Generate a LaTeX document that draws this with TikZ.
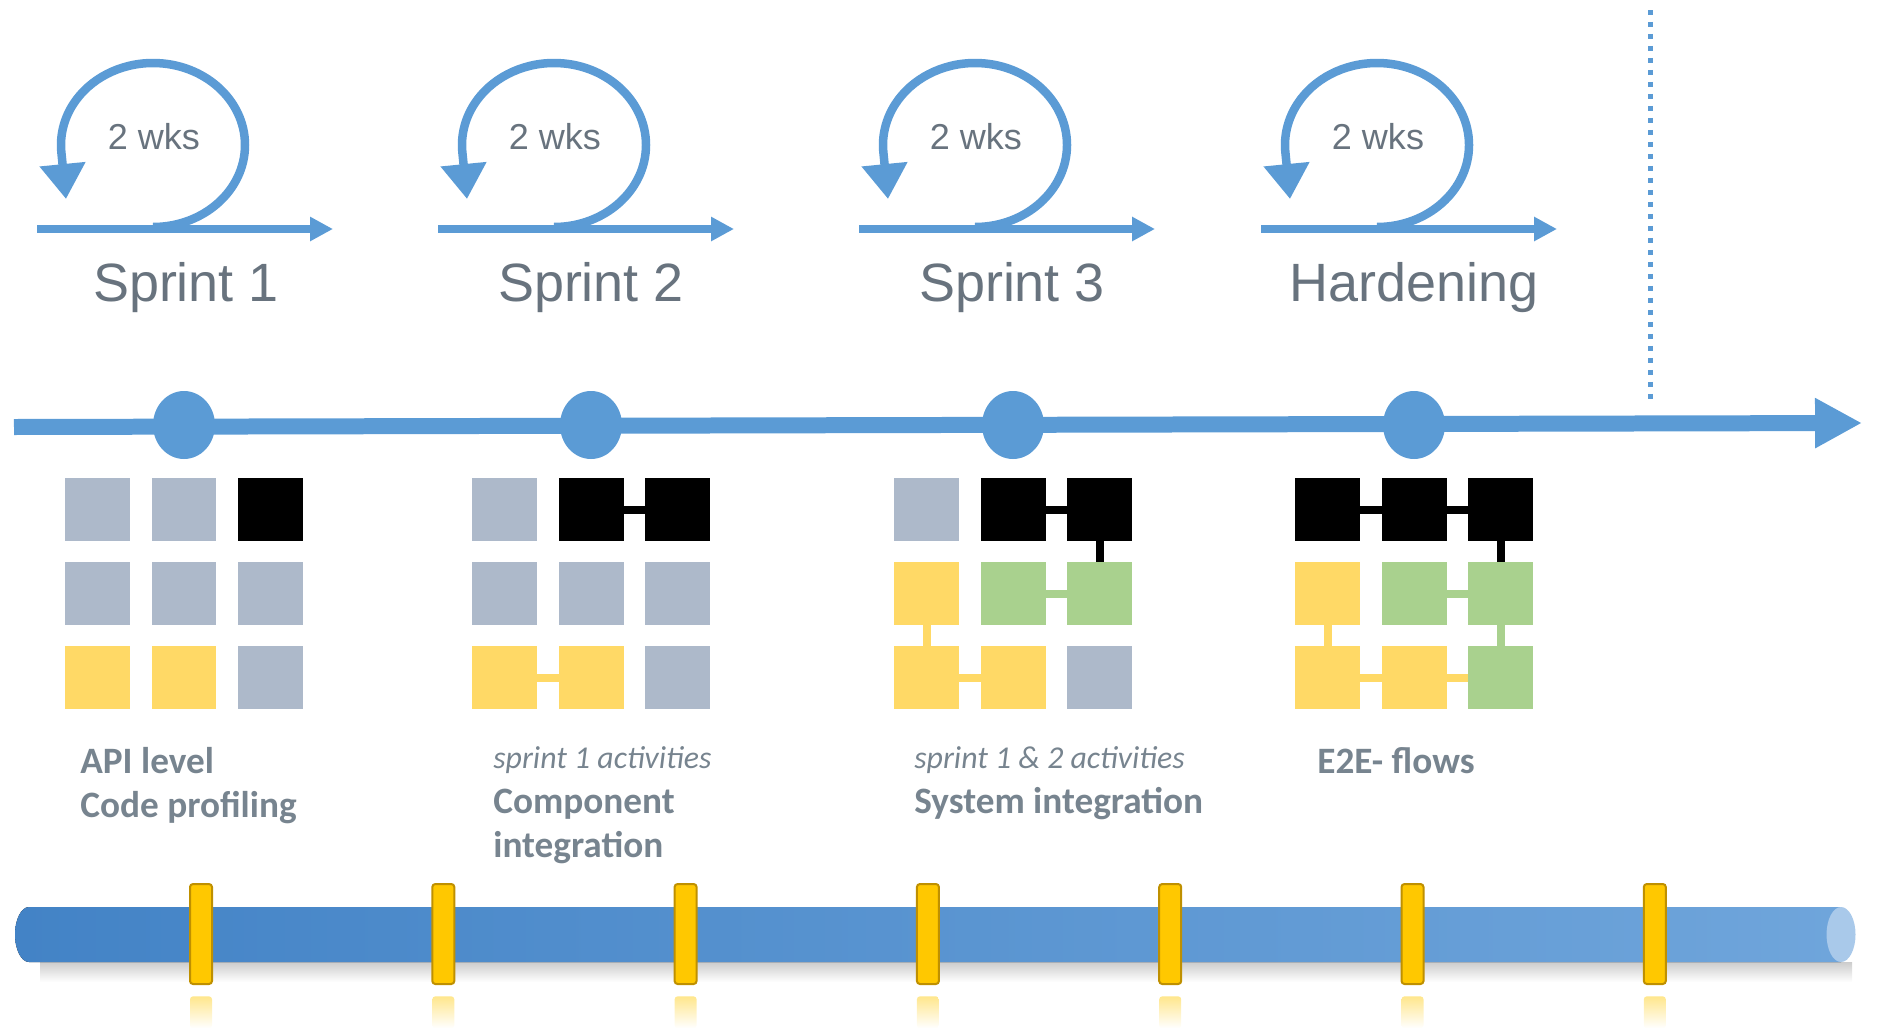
\documentclass[tikz,border=0pt]{standalone}
\usepackage{fontspec}
\setmainfont{Liberation Sans}
\newfontfamily\calibri{Carlito}
\usetikzlibrary{arrows.meta,shapes.geometric,positioning}
\definecolor{sblue}{HTML}{5B9BD5}
\definecolor{sgray}{HTML}{68737E}
\definecolor{lgray}{HTML}{77848F}
\definecolor{bgray}{HTML}{ADB9CA}
\definecolor{byellow}{HTML}{FFD966}
\definecolor{bgreen}{HTML}{A9D18E}
\definecolor{pegfill}{HTML}{FFC800}
\definecolor{pegline}{HTML}{BF9000}
\definecolor{tubeL}{HTML}{4383C6}
\definecolor{tubeR}{HTML}{6FA5DB}
\definecolor{tubecap}{HTML}{A9C9EA}
% one 3x3 grid of blocks under a milestone
\newcommand\sgrid[3]{%
  \foreach \f [count=\k from 0] in {#3} {
    \pgfmathtruncatemacro\r{\k/3}
    \pgfmathtruncatemacro\c{mod(\k,3)}
    \node[blk=\f] (#1-\r\c) at ({#2+86.5*(\c-1)}, {509.5+84*\r}) {};
  }}
\begin{document}
\begin{tikzpicture}[x=0.02cm, y=-0.02cm,
  blk/.style={minimum width=1.3cm, minimum height=1.26cm, inner sep=0pt, outer sep=0pt, fill=#1},
  link/.style={draw=#1, line width=0.16cm},
  mile/.style={ellipse, fill=sblue, minimum width=1.24cm, minimum height=1.36cm, inner sep=0pt},
  peg/.style={rounded corners=0.06cm, minimum width=0.44cm, minimum height=2cm, inner sep=0pt, fill=pegfill, draw=pegline, line width=0.04cm},
  pegshade/.style={rounded corners=0.06cm, minimum width=0.44cm, minimum height=0.64cm, inner sep=0pt, top color=pegfill!45, bottom color=white},
  loopline/.style={sblue, line width=0.17cm},
  sprint/.style={text=sgray, font=\fontsize{30.7}{36}\selectfont, anchor=base},
  wks/.style={text=sgray, font=\fontsize{20.5}{24}\selectfont, anchor=base},
  lbl/.style={text=lgray, font=\calibri\bfseries\fontsize{21.2}{25}\selectfont, anchor=base west, inner sep=0pt},
  note/.style={text=lgray, font=\calibri\itshape\fontsize{18.1}{20}\selectfont, anchor=base west, inner sep=0pt}]
\useasboundingbox (0,0) rectangle (1878,1031);

% sprint loops
\foreach \s/\x in {1/37, 2/438, 3/859, 4/1261}{
  \coordinate (lp\s) at (\x,229);
  \draw[loopline, -{Triangle[width=0.46cm,length=0.46cm]}] (lp\s) -- ++(296,0);
  \draw[loopline, -{Triangle[width=0.88cm,length=0.7cm]}] (\x+116,227)
    arc[start angle=90, end angle=-185, x radius=92, y radius=82] -- (\x+29,199);
  \node[wks] (wk\s) at (\x+117,149) {2 wks};
}
\node[sprint] (sp1) at (186,301) {Sprint 1};
\node[sprint] (sp2) at (591,301) {Sprint 2};
\node[sprint] (sp3) at (1012,301) {Sprint 3};
\node[sprint] (sp4) at (1414,301) {Hardening};

% timeline
\draw[sblue, line width=0.1cm, dash pattern=on 0.1cm off 0.14cm] (1650,10) -- (1650,404);
\coordinate (tl0) at (14,427);
\coordinate (tl1) at (1862,423);
\draw[sblue, line width=0.32cm, -{Triangle[width=0.94cm,length=0.94cm]}] (tl0) -- (tl1);
\foreach \i/\x in {1/184, 2/591, 3/1013, 4/1414}
  \node[mile] (m\i) at (\x,425) {};

% blocks
\sgrid{s1}{184}{bgray,bgray,black,bgray,bgray,bgray,byellow,byellow,bgray}
\sgrid{s2}{591}{bgray,black,black,bgray,bgray,bgray,byellow,byellow,bgray}
\sgrid{s3}{1013}{bgray,black,black,byellow,bgreen,bgreen,byellow,byellow,bgray}
\sgrid{s4}{1414}{black,black,black,byellow,bgreen,bgreen,byellow,byellow,bgreen}
\draw[link=black] (s2-01) -- (s2-02);
\draw[link=byellow] (s2-20) -- (s2-21);
\draw[link=black] (s3-01) -- (s3-02) (s3-02) -- (s3-12);
\draw[link=bgreen] (s3-11) -- (s3-12);
\draw[link=byellow] (s3-10) -- (s3-20) (s3-20) -- (s3-21);
\draw[link=black] (s4-00) -- (s4-01) (s4-01) -- (s4-02) (s4-02) -- (s4-12);
\draw[link=bgreen] (s4-11) -- (s4-12) (s4-12) -- (s4-22);
\draw[link=byellow] (s4-10) -- (s4-20) (s4-20) -- (s4-21) (s4-21) -- (s4-22);

% labels
\node[lbl] (t1a) at (80,773) {API level};
\node[lbl] (t1b) at (80,817) {Code profiling};
\node[note] (t2a) at (493,768) {sprint 1 activities};
\node[lbl] (t2b) at (493,813) {Component};
\node[lbl] (t2c) at (493,857) {integration};
\node[note] (t3a) at (914,768) {sprint 1 \& 2 activities};
\node[lbl] (t3b) at (914,813) {System integration};
\node[lbl] (t4a) at (1317,773) {E2E- flows};

% tube
\fill[top color=black!20, bottom color=white] (40,962) rectangle (1852,982);
\fill[left color=tubeL, right color=tubeR] (1841,907) -- (29,907)
  arc[start angle=-90, end angle=-270, x radius=14, y radius=27.5] -- (1841,962) -- cycle;
\fill[tubecap] (1841,934.5) ellipse[x radius=14.5, y radius=27.5];
\foreach \i in {1,...,7}{
  \node[peg] (p\i) at ({201+242.3*(\i-1)}, 934) {};
  \node[pegshade, below=0.22cm of p\i] (q\i) {};
}
\end{tikzpicture}
\end{document}
